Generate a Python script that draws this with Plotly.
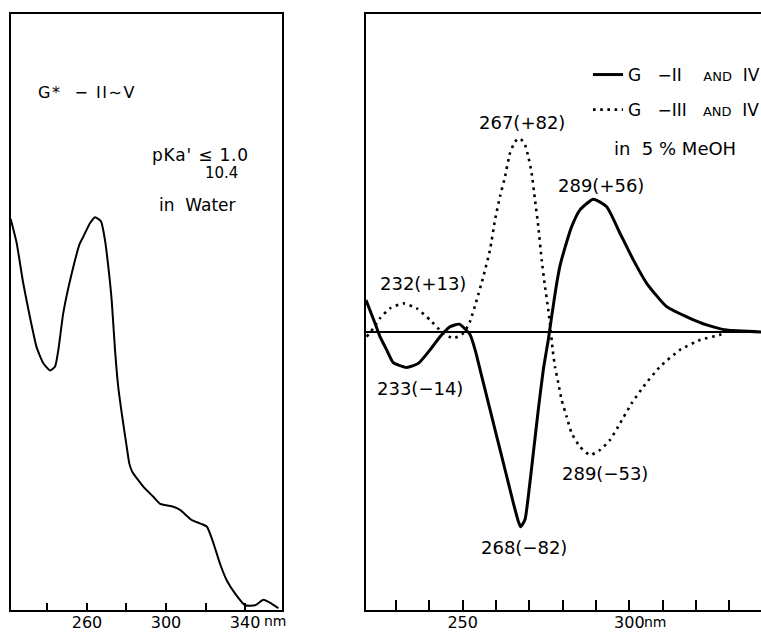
import plotly.graph_objects as go

# ---------------- data ----------------
# Left panel: UV absorption in water (arbitrary absorbance units)
uv_nm = [221.4, 224.4, 227.7, 231.1, 234.5, 237.9, 241.3, 243.8, 245.5, 248.0,
         252.3, 256.4, 258.1, 261.5, 264.1, 267.1, 269.1, 270.8, 272.5, 274.2,
         275.8, 277.6, 280.1, 281.4, 282.9, 288.5, 293.6, 297.0, 302.9, 307.1,
         313.0, 320.6, 324.0, 327.3, 330.7, 334.9, 340.0, 345.1, 349.3, 352.7,
         356.9]
uv_abs = [0.656, 0.616, 0.549, 0.492, 0.441, 0.414, 0.402, 0.408, 0.436, 0.498,
          0.565, 0.615, 0.626, 0.649, 0.659, 0.652, 0.621, 0.576, 0.520, 0.436,
          0.375, 0.330, 0.274, 0.246, 0.232, 0.207, 0.190, 0.178, 0.174, 0.168,
          0.151, 0.140, 0.112, 0.078, 0.050, 0.028, 0.008, 0.008, 0.017, 0.012,
          0.003]

# Right panel: CD spectra in 5% MeOH
cd_a_nm = [221.0, 223.7, 225.2, 227.2, 229.2, 233.2, 236.7, 240.2, 243.2, 246.2,
           249.0, 252.2, 253.7, 255.7, 257.7, 259.7, 261.7, 263.7, 265.2, 266.7,
           267.4, 268.7, 269.7, 271.2, 272.7, 274.2, 275.7, 276.7, 278.2, 279.2,
           280.2, 282.7, 285.2, 289.2, 293.2, 297.2, 301.2, 305.2, 311.2, 318.2,
           323.2, 329.2, 339.5]
cd_a_val = [13.5, 3.7, -2.0, -7.6, -13.0, -15.0, -13.3, -7.6, -2.0, 2.2,
            3.3, -1.1, -7.4, -18.7, -30.0, -41.3, -52.6, -63.9, -72.4, -80.2,
            -82.5, -79.4, -69.5, -51.2, -32.8, -15.9, -3.2, 6.6, 20.5, 28.0,
            33.3, 44.6, 51.7, 56.2, 53.0, 41.8, 30.5, 20.6, 10.7, 5.8,
            3.0, 0.8, 0.0]

cd_b_nm = [221.2, 223.2, 225.2, 228.2, 232.2, 236.2, 240.2, 243.7, 247.2, 250.2,
           252.2, 254.2, 256.2, 258.2, 259.7, 261.2, 262.7, 264.2, 265.7, 267.2,
           268.7, 269.7, 270.7, 271.7, 272.7, 273.7, 274.7, 275.7, 276.4, 277.0,
           277.7, 278.7, 279.7, 281.2, 282.7, 285.2, 288.2, 291.2, 294.2, 297.2,
           300.7, 304.2, 309.2, 315.2, 321.2, 327.2, 328.7]
cd_b_val = [-2.0, 1.6, 5.8, 10.0, 12.1, 10.0, 5.1, 0.1, -2.7, -0.6,
            4.4, 13.5, 23.4, 34.7, 47.4, 57.3, 65.7, 75.7, 80.6, 82.0,
            79.2, 74.2, 67.2, 55.9, 44.6, 30.5, 19.2, 9.3, 0.8, -7.6,
            -14.7, -21.7, -28.8, -35.9, -42.9, -48.6, -52.1, -50.0, -45.7, -38.7,
            -30.2, -23.2, -14.7, -7.6, -3.4, -1.2, 0.0]

left_tickvals = [240, 260, 280, 300, 320, 340]
left_ticktext = ["", "260", "", "300", "", "340"]
right_tickvals = [230, 240, 250, 260, 270, 280, 290, 300, 310, 320, 330]
right_ticktext = ["", "", "250", "", "", "", "", "300", "", "", ""]

series_a_name = "G   −II    <span style='font-size:13px'>AND</span>  IV"
series_b_name = "G   −III   <span style='font-size:13px'>AND</span>  IV"

# peak labels: (text, nm, value)
cd_labels = [
    ("267(+82)", 267.8, 88.5),
    ("289(+56)", 291.6, 62.2),
    ("232(+13)", 238.1, 20.7),
    ("233(−14)", 237.2, -23.9),
    ("268(−82)", 268.4, -91.4),
    ("289(−53)", 292.7, -60.1),
]

FONT = "DejaVu Sans"
W, H = 761, 632

fig = go.Figure()

fig.add_trace(go.Scatter(x=uv_nm, y=uv_abs, mode="lines",
                         line=dict(color="black", width=2, shape="spline", smoothing=0.5),
                         xaxis="x", yaxis="y", showlegend=False))
fig.add_trace(go.Scatter(x=cd_a_nm, y=cd_a_val, mode="lines", name=series_a_name, legendgroup="a",
                         line=dict(color="black", width=3, shape="spline", smoothing=0.5),
                         xaxis="x2", yaxis="y2"))
fig.add_trace(go.Scatter(x=cd_b_nm, y=cd_b_val, mode="lines", name=series_b_name, legendgroup="b",
                         line=dict(color="black", width=2.6, dash="2.6px,4.6px", shape="spline", smoothing=0.5),
                         xaxis="x2", yaxis="y2"))

ydom = [(H - 610) / H, (H - 14) / H]
axis_common = dict(showline=True, linecolor="black", linewidth=2, showgrid=False, zeroline=False,
                   tickfont=dict(family=FONT, size=16, color="black"))

annotations = []
left_notes = [
    ("<span style='letter-spacing:1.5px'>G*  − II∼V</span>", 234.2, 0.869, 16),
    ("<span style='letter-spacing:0.8px'>pKa' ≤ 1.0</span>", 291.9, 0.763, 17),
    ("10.4", 318.7, 0.733, 15),
    ("in  Water", 295.4, 0.680, 17),
]
for t, x, y, s in left_notes:
    annotations.append(dict(text=t, x=x, y=y, xref="x", yref="y", xanchor="left", yanchor="middle",
                            showarrow=False, font=dict(family=FONT, size=s, color="black")))
for t, x, y in cd_labels:
    annotations.append(dict(text=t, x=x, y=y, xref="x2", yref="y2", xanchor="center", yanchor="middle",
                            showarrow=False, font=dict(family=FONT, size=18, color="black")))
annotations.append(dict(text="in  5 % MeOH", x=313.7, y=77.5, xref="x2", yref="y2", xanchor="center",
                        yanchor="middle", showarrow=False, font=dict(family=FONT, size=18, color="black")))
annotations.append(dict(text="nm", x=355.6, y=(H - 621) / H, xref="x", yref="paper", xanchor="center",
                        yanchor="middle", showarrow=False, font=dict(family=FONT, size=14, color="black")))
annotations.append(dict(text="nm", x=307.9, y=(H - 622) / H, xref="x2", yref="paper", xanchor="center",
                        yanchor="middle", showarrow=False, font=dict(family=FONT, size=14, color="black")))

fig.update_layout(
    width=W, height=H,
    margin=dict(l=0, r=0, t=0, b=0, pad=0, autoexpand=False),
    paper_bgcolor="white", plot_bgcolor="white",
    font=dict(family=FONT, color="black"),
    xaxis=dict(domain=[10.5 / W, 282 / W], range=[221.3, 358.7], anchor="y", mirror=True,
               ticks="inside", ticklen=7, tickwidth=2, tickcolor="black", ticklabelstandoff=-3,
               tickvals=left_tickvals, ticktext=left_ticktext, **axis_common),
    yaxis=dict(domain=ydom, range=[0, 1], anchor="x", mirror=True, ticks="", showticklabels=False,
               **axis_common),
    xaxis2=dict(domain=[366 / W, 1.0], range=[221.0, 339.5], anchor="y2", mirror=True,
                ticks="inside", ticklen=10, tickwidth=2, tickcolor="black", ticklabelstandoff=-3,
                tickvals=right_tickvals, ticktext=right_ticktext, **axis_common),
    yaxis2=dict(domain=ydom, range=[-117.7, 134.6], anchor="x2", ticks="", showticklabels=False,
                showline=True, linecolor="black", linewidth=2, showgrid=False,
                zeroline=True, zerolinecolor="black", zerolinewidth=1.5),
    legend=dict(x=588 / W, y=(H - 57) / H, xanchor="left", yanchor="top", bgcolor="rgba(0,0,0,0)",
                font=dict(family=FONT, size=17, color="black"), tracegroupgap=10,
                traceorder="grouped", itemwidth=30),
    annotations=annotations,
)

fig.write_html("out.html", config={"displayModeBar": False},
               post_script="document.body.style.margin='0';document.body.style.padding='0';")
